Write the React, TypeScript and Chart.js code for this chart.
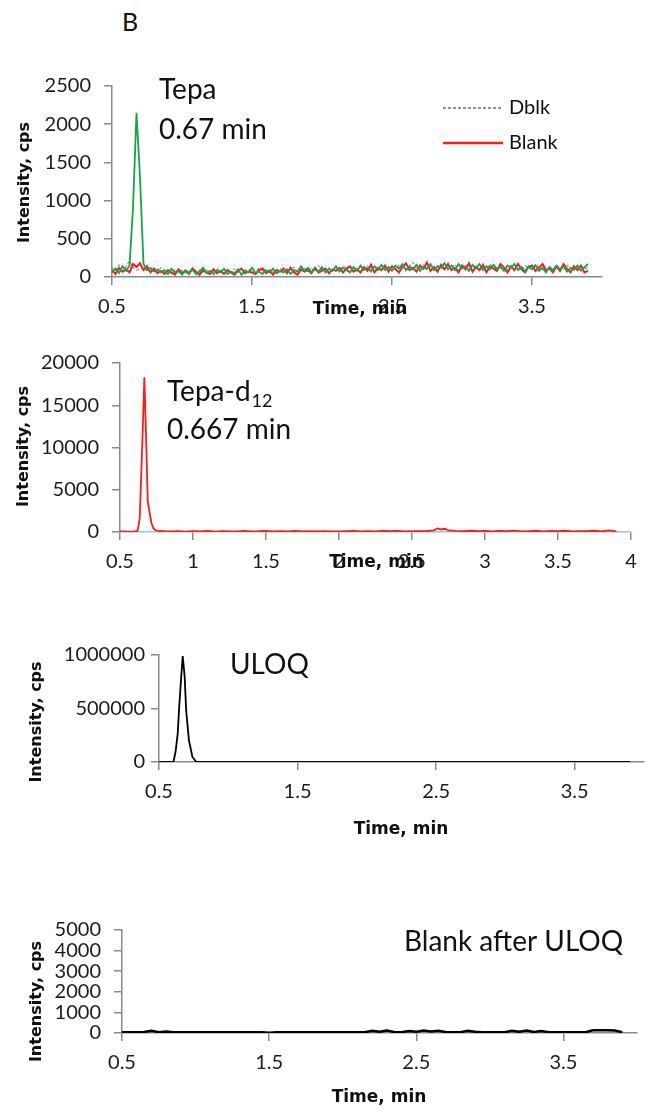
import React, { useEffect, useRef } from "react";
import { Chart, registerables } from "chart.js";

Chart.register(...registerables);

// ---------------- Panel 1: Tepa (0.67 min) ----------------
const TIME_TEPA = [
  0.5, 0.525, 0.55, 0.575, 0.6, 0.625, 0.65, 0.675,
  0.7, 0.725, 0.75, 0.775, 0.8, 0.825, 0.85, 0.875,
  0.9, 0.925, 0.95, 0.975, 1.0, 1.025, 1.05, 1.075,
  1.1, 1.125, 1.15, 1.175, 1.2, 1.225, 1.25, 1.275,
  1.3, 1.325, 1.35, 1.375, 1.4, 1.425, 1.45, 1.475,
  1.5, 1.525, 1.55, 1.575, 1.6, 1.625, 1.65, 1.675,
  1.7, 1.725, 1.75, 1.775, 1.8, 1.825, 1.85, 1.875,
  1.9, 1.925, 1.95, 1.975, 2.0, 2.025, 2.05, 2.075,
  2.1, 2.125, 2.15, 2.175, 2.2, 2.225, 2.25, 2.275,
  2.3, 2.325, 2.35, 2.375, 2.4, 2.425, 2.45, 2.475,
  2.5, 2.525, 2.55, 2.575, 2.6, 2.625, 2.65, 2.675,
  2.7, 2.725, 2.75, 2.775, 2.8, 2.825, 2.85, 2.875,
  2.9, 2.925, 2.95, 2.975, 3.0, 3.025, 3.05, 3.075,
  3.1, 3.125, 3.15, 3.175, 3.2, 3.225, 3.25, 3.275,
  3.3, 3.325, 3.35, 3.375, 3.4, 3.425, 3.45, 3.475,
  3.5, 3.525, 3.55, 3.575, 3.6, 3.625, 3.65, 3.675,
  3.7, 3.725, 3.75, 3.775, 3.8, 3.825, 3.85, 3.875,
  3.9,
];
const TEPA_SAMPLE = [
  60, 110, 50, 140, 80, 150, 900, 2150,
  1300, 170, 90, 120, 70, 100, 60, 90,
  40, 110, 60, 80, 30, 90, 50, 100,
  40, 70, 120, 50, 80, 40, 90, 60,
  110, 40, 70, 50, 100, 30, 80, 60,
  120, 50, 70, 40, 90, 60, 110, 50,
  80, 60, 100, 40, 90, 70, 140, 80,
  120, 60, 100, 70, 130, 60, 110, 80,
  140, 70, 120, 90, 60, 130, 80, 150,
  90, 120, 70, 140, 100, 160, 90, 130,
  80, 150, 110, 170, 90, 140, 100, 160,
  80, 130, 110, 170, 90, 140, 120, 180,
  100, 150, 90, 170, 110, 140, 80, 160,
  120, 170, 90, 140, 100, 160, 110, 130,
  80, 150, 120, 170, 90, 130, 70, 140,
  100, 150, 80, 120, 60, 130, 90, 150,
  100, 140, 70, 120, 90, 150, 80, 130,
  170,
];
const TEPA_BLANK = [
  90, 40, 120, 70, 100, 60, 170, 130,
  180, 90, 140, 60, 110, 50, 80, 40,
  90, 60, 30, 100, 50, 80, 40, 110,
  70, 30, 90, 60, 40, 100, 50, 80,
  40, 90, 60, 30, 80, 110, 50, 70,
  60, 40, 90, 110, 50, 80, 30, 90,
  70, 110, 50, 120, 60, 30, 100, 70,
  90, 50, 120, 60, 80, 110, 50, 100,
  80, 120, 60, 110, 140, 70, 100, 60,
  130, 80, 160, 60, 120, 90, 150, 70,
  140, 100, 60, 130, 180, 90, 120, 70,
  150, 110, 190, 80, 130, 70, 160, 100,
  170, 90, 120, 60, 150, 100, 180, 70,
  130, 90, 160, 60, 140, 110, 80, 170,
  120, 60, 140, 90, 170, 100, 60, 130,
  150, 80, 120, 170, 90, 110, 60, 140,
  80, 170, 110, 60, 140, 90, 150, 60,
  80,
];
const TEPA_DBLK = [
  120, 80, 160, 60, 140, 210, 120, 90,
  100, 130, 70, 110, 60, 90, 120, 50,
  80, 40, 100, 60, 90, 50, 70, 120,
  50, 90, 60, 100, 40, 80, 110, 70,
  60, 80, 50, 110, 70, 40, 90, 100,
  80, 60, 120, 70, 50, 100, 60, 90,
  110, 80, 60, 100, 130, 70, 90, 120,
  70, 110, 80, 150, 90, 60, 120, 90,
  100, 80, 150, 110, 70, 120, 90, 130,
  110, 150, 100, 130, 80, 170, 110, 120,
  130, 90, 160, 120, 100, 150, 190, 110,
  120, 160, 90, 140, 110, 150, 130, 100,
  140, 110, 170, 90, 130, 160, 100, 140,
  110, 150, 120, 90, 170, 130, 100, 150,
  140, 100, 130, 160, 110, 90, 150, 120,
  110, 170, 130, 90, 140, 120, 100, 150,
  120, 90, 160, 110, 130, 80, 140, 110,
  120,
];
const X_TICKS_TEPA = [0.5, 1.5, 2.5, 3.5];
const Y_TICKS_TEPA = [0, 500, 1000, 1500, 2000, 2500];

// ---------------- Panel 2: Tepa-d12 (0.667 min) ----------------
const TIME_IS = [
  0.5, 0.55, 0.6, 0.62, 0.635, 0.65, 0.667, 0.68, 0.69, 0.7,
  0.715, 0.73, 0.75, 0.8, 0.85, 0.9, 0.95, 1.0, 1.05, 1.1,
  1.15, 1.2, 1.25, 1.3, 1.35, 1.4, 1.45, 1.5, 1.55, 1.6,
  1.65, 1.7, 1.75, 1.8, 1.85, 1.9, 1.95, 2.0, 2.05, 2.1,
  2.15, 2.2, 2.25, 2.3, 2.35, 2.4, 2.45, 2.5, 2.55, 2.6,
  2.65, 2.675, 2.7, 2.725, 2.75, 2.8, 2.85, 2.9, 2.95, 3.0,
  3.05, 3.1, 3.15, 3.2, 3.25, 3.3, 3.35, 3.4, 3.45, 3.5,
  3.55, 3.6, 3.65, 3.7, 3.75, 3.8, 3.85, 3.9,
];
const TEPA_D12 = [
  60, 50, 70, 120, 1600, 9000, 18300, 10500, 3600, 2600,
  1100, 380, 150, 90, 60, 110, 50, 90, 60, 120,
  50, 100, 60, 80, 130, 60, 90, 140, 60, 100,
  70, 120, 60, 90, 70, 110, 80, 60, 100, 140,
  80, 110, 70, 120, 90, 130, 80, 110, 90, 120,
  200, 420, 300, 380, 180, 130, 100, 150, 90, 120,
  80, 140, 90, 160, 80, 110, 150, 70, 120, 90,
  150, 70, 110, 90, 150, 70, 180, 80,
];
const X_TICKS_IS = [0.5, 1, 1.5, 2, 2.5, 3, 3.5, 4];
const Y_TICKS_IS = [0, 5000, 10000, 15000, 20000];

// ---------------- Panel 3: ULOQ ----------------
const TIME_ULOQ = [0.5, 0.6, 0.605, 0.62, 0.635, 0.645, 0.657, 0.671, 0.685, 0.696, 0.716, 0.741, 0.77, 0.8, 3.9];
const ULOQ = [0, 0, 5000, 100000, 265000, 500000, 734000, 990000, 800000, 484000, 203000, 47000, 0, 0, 0];
const X_TICKS_ULOQ = [0.5, 1.5, 2.5, 3.5];
const Y_TICKS_ULOQ = [0, 500000, 1000000];

// ---------------- Panel 4: Blank after ULOQ ----------------
const TIME_CARRY = [
  0.5, 0.55, 0.6, 0.65, 0.7, 0.75, 0.8, 0.85, 0.9, 0.95,
  1.0, 1.05, 1.1, 1.15, 1.2, 1.25, 1.3, 1.35, 1.4, 1.45,
  1.5, 1.55, 1.6, 1.65, 1.7, 1.75, 1.8, 1.85, 1.9, 1.95,
  2.0, 2.05, 2.1, 2.15, 2.2, 2.25, 2.3, 2.35, 2.4, 2.45,
  2.5, 2.55, 2.6, 2.65, 2.7, 2.75, 2.8, 2.85, 2.9, 2.95,
  3.0, 3.05, 3.1, 3.15, 3.2, 3.25, 3.3, 3.35, 3.4, 3.45,
  3.5, 3.55, 3.6, 3.65, 3.7, 3.75, 3.8, 3.85, 3.9,
];
const BLANK_AFTER_ULOQ = [
  40, 40, 40, 50, 110, 40, 70, 40, 40, 40,
  40, 40, 40, 40, 40, 40, 40, 40, 40, 40,
  10, 40, 40, 40, 40, 40, 40, 40, 40, 40,
  40, 40, 40, 40, 110, 60, 120, 50, 40, 100,
  60, 120, 70, 110, 50, 40, 40, 110, 60, 40,
  40, 40, 40, 110, 60, 120, 50, 100, 40, 40,
  40, 40, 40, 40, 130, 130, 130, 120, 40,
];
const X_TICKS_CARRY = [0.5, 1.5, 2.5, 3.5];
const Y_TICKS_CARRY = [0, 1000, 2000, 3000, 4000, 5000];

const LEGEND_LABELS = ["Dblk", "Blank"];
const X_TITLE = "Time, min";
const Y_TITLE = "Intensity, cps";
const PANEL_LETTER = "B";

// ---------------- styling ----------------
const W = 657;
const TOP_PAD = 30;
const X_AXIS_H = 78;
const AXIS = "#8a8a8a";
const TICK_COLOR = "#1c1c1c";
const TEXT_COLOR = "#111111";
const CALIBRI = "Lato, 'Open Sans', sans-serif";
const TITLE_FONT = "bold 16px 'DejaVu Sans', Verdana, sans-serif";
const XTITLE_FONT = "bold 17px 'DejaVu Sans', Verdana, sans-serif";
const BIG = `28px ${CALIBRI}`;

type Txt = {
  text: string; x: number; y: number; font: string;
  align?: CanvasTextAlign; rotate?: boolean; sub?: string; subFont?: string;
};
type Series = { t: number[]; v: number[]; color: string; width: number; dash?: number[]; order: number };
type Panel = {
  area: { l: number; t: number; r: number; b: number };
  yMax: number; xTicks: number[]; yTicks: number[]; yPad: number;
  series: Series[]; texts: Txt[]; legend?: boolean; xBorder?: string;
};

const GREEN = "#12a54a";
const RED = "#ff1a1a";
const GRAY = "#6e6e6e";

const PANELS: Panel[] = [
  {
    area: { l: 112, t: 86, r: 602, b: 277 },
    yMax: 2500, xTicks: X_TICKS_TEPA, yTicks: Y_TICKS_TEPA, yPad: 13,
    series: [
      { t: TIME_TEPA, v: TEPA_SAMPLE, color: GREEN, width: 1.8, order: 0 },
      { t: TIME_TEPA, v: TEPA_BLANK, color: RED, width: 2, order: 1 },
      { t: TIME_TEPA, v: TEPA_DBLK, color: GRAY, width: 1, dash: [3, 2], order: 2 },
    ],
    texts: [
      { text: "Tepa", x: 159, y: 90, font: BIG },
      { text: "0.67 min", x: 159, y: 130, font: BIG },
      { text: X_TITLE, x: 360, y: 310, font: XTITLE_FONT, align: "center" },
      { text: Y_TITLE, x: 25, y: 182.5, font: TITLE_FONT, rotate: true },
    ],
    legend: true,
  },
  {
    area: { l: 120, t: 363, r: 631, b: 532 },
    yMax: 20000, xTicks: X_TICKS_IS, yTicks: Y_TICKS_IS, yPad: 13,
    series: [{ t: TIME_IS, v: TEPA_D12, color: RED, width: 1.8, order: 0 }],
    texts: [
      { text: "Tepa-d", x: 167, y: 392, font: BIG, sub: "12", subFont: `18px ${CALIBRI}` },
      { text: "0.667 min", x: 167, y: 430, font: BIG },
      { text: X_TITLE, x: 376.5, y: 563, font: XTITLE_FONT, align: "center" },
      { text: Y_TITLE, x: 24, y: 446.5, font: TITLE_FONT, rotate: true },
    ],
    xBorder: "#9cc9c9",
  },
  {
    area: { l: 159, t: 655, r: 644, b: 762 },
    yMax: 1000000, xTicks: X_TICKS_ULOQ, yTicks: Y_TICKS_ULOQ, yPad: 6,
    series: [{ t: TIME_ULOQ, v: ULOQ, color: "#000000", width: 1.8, order: 0 }],
    texts: [
      { text: "ULOQ", x: 230, y: 665, font: BIG },
      { text: X_TITLE, x: 401, y: 830, font: XTITLE_FONT, align: "center" },
      { text: Y_TITLE, x: 36.5, y: 722, font: TITLE_FONT, rotate: true },
    ],
  },
  {
    area: { l: 122, t: 930, r: 637, b: 1033 },
    yMax: 5000, xTicks: X_TICKS_CARRY, yTicks: Y_TICKS_CARRY, yPad: 13,
    series: [{ t: TIME_CARRY, v: BLANK_AFTER_ULOQ, color: "#000000", width: 2.5, order: 0 }],
    texts: [
      { text: "Blank after ULOQ", x: 404, y: 942, font: BIG },
      { text: X_TITLE, x: 379, y: 1098, font: XTITLE_FONT, align: "center" },
      { text: Y_TITLE, x: 36.5, y: 1001.5, font: TITLE_FONT, rotate: true },
    ],
  },
];

function PanelChart({ p }: { p: Panel }) {
  const ref = useRef<HTMLCanvasElement | null>(null);
  const canvasTop = p.area.t - TOP_PAD;
  const canvasH = p.area.b - p.area.t + TOP_PAD + X_AXIS_H;

  useEffect(() => {
    if (!ref.current) return;
    const textPlugin = {
      id: "panelText",
      afterDraw(chart: any) {
        const ctx: CanvasRenderingContext2D = chart.ctx;
        ctx.save();
        ctx.fillStyle = TEXT_COLOR;
        ctx.textBaseline = "middle";
        for (const t of p.texts) {
          const y = t.y - canvasTop;
          ctx.font = t.font;
          if (t.rotate) {
            ctx.save();
            ctx.translate(t.x, y);
            ctx.rotate(-Math.PI / 2);
            ctx.textAlign = "center";
            ctx.fillText(t.text, 0, 0);
            ctx.restore();
            continue;
          }
          ctx.textAlign = t.align || "left";
          ctx.fillText(t.text, t.x, y);
          if (t.sub) {
            const w = ctx.measureText(t.text).width;
            ctx.font = t.subFont || t.font;
            ctx.textAlign = "left";
            ctx.fillText(t.sub, t.x + w + 1, y + 9);
          }
        }
        if (p.legend) {
          const rows = [
            { label: LEGEND_LABELS[0], y: 108, s: p.series[2] },
            { label: LEGEND_LABELS[1], y: 143, s: p.series[1] },
          ];
          for (const r of rows) {
            const y = r.y - canvasTop;
            ctx.beginPath();
            ctx.strokeStyle = r.s.color;
            ctx.lineWidth = r.s.dash ? 1.3 : 2.5;
            ctx.setLineDash(r.s.dash || []);
            ctx.moveTo(443, y);
            ctx.lineTo(503, y);
            ctx.stroke();
            ctx.setLineDash([]);
            ctx.font = `20px ${CALIBRI}`;
            ctx.textAlign = "left";
            ctx.fillStyle = TEXT_COLOR;
            ctx.fillText(r.label, 509, y);
          }
        }
        ctx.restore();
      },
    };

    const axisCommon = (pad: number) => ({
      grid: { drawOnChartArea: false, drawTicks: true, tickLength: 8, color: AXIS, lineWidth: 1.5 },
      ticks: {
        autoSkip: false, maxRotation: 0, minRotation: 0, padding: pad,
        font: { family: CALIBRI, size: 20 }, color: TICK_COLOR,
        callback: (v: any) => String(v),
      },
    });

    const chart = new Chart(ref.current, {
      type: "line",
      data: {
        datasets: p.series.map((s) => ({
          data: s.t.map((x, i) => ({ x, y: s.v[i] })),
          borderColor: s.color,
          borderWidth: s.width,
          borderDash: s.dash || [],
          pointRadius: 0,
          fill: false,
          tension: 0,
          order: s.order,
        })),
      },
      options: {
        responsive: false,
        animation: false,
        events: [],
        layout: { padding: { top: TOP_PAD, right: W - p.area.r, bottom: 0, left: 0 } },
        plugins: { legend: { display: false }, tooltip: { enabled: false }, title: { display: false } },
        scales: {
          x: {
            type: "linear", min: 0.5, max: 4,
            afterBuildTicks: (s: any) => { s.ticks = p.xTicks.map((value) => ({ value })); },
            afterFit: (s: any) => { s.height = X_AXIS_H; },
            ...axisCommon(10),
            border: { display: true, color: p.xBorder || AXIS, width: 1.5 },
          },
          y: {
            type: "linear", min: 0, max: p.yMax,
            afterBuildTicks: (s: any) => { s.ticks = p.yTicks.map((value) => ({ value })); },
            afterFit: (s: any) => { s.width = p.area.l; },
            ...axisCommon(p.yPad),
            border: { display: true, color: AXIS, width: 1.5 },
          },
        },
      } as any,
      plugins: [textPlugin],
    });
    return () => chart.destroy();
  }, []);

  return (
    <canvas
      ref={ref}
      width={W}
      height={canvasH}
      style={{ position: "absolute", left: 0, top: canvasTop, width: W, height: canvasH }}
    />
  );
}

export default function App() {
  return (
    <div style={{ position: "absolute", left: 0, top: 0, width: W, height: 1113, background: "#ffffff", overflow: "hidden" }}>
      <div
        style={{
          position: "absolute", left: 122, top: 9, fontFamily: CALIBRI,
          fontSize: 25, lineHeight: "25px", color: TEXT_COLOR,
        }}
      >
        {PANEL_LETTER}
      </div>
      {PANELS.map((p, i) => (
        <PanelChart key={i} p={p} />
      ))}
    </div>
  );
}
